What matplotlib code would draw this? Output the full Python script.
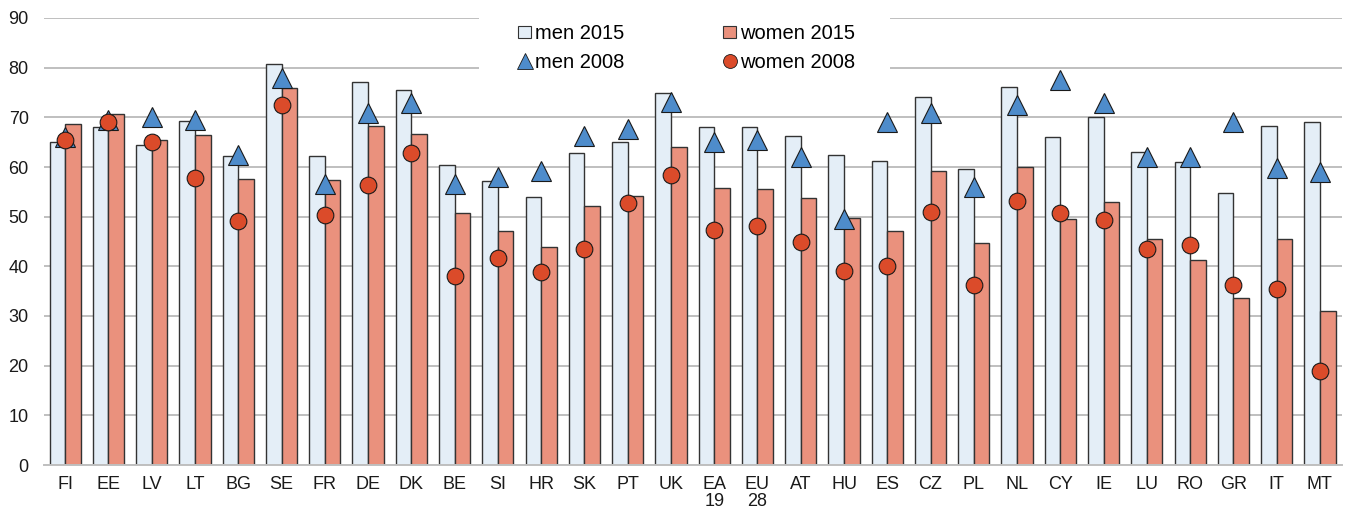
import numpy as np
import matplotlib.pyplot as plt
from matplotlib.patches import Patch, Rectangle
from matplotlib.lines import Line2D

plt.rcParams['font.family'] = ['Liberation Sans', 'DejaVu Sans']

countries = ['FI', 'EE', 'LV', 'LT', 'BG', 'SE', 'FR', 'DE', 'DK', 'BE', 'SI', 'HR', 'SK', 'PT', 'UK',
             'EA\n19', 'EU\n28', 'AT', 'HU', 'ES', 'CZ', 'PL', 'NL', 'CY', 'IE', 'LU', 'RO', 'GR', 'IT', 'MT']
men_2015 = [65.0, 68.0, 64.5, 69.2, 62.2, 80.7, 62.2, 77.1, 75.6, 60.4, 57.2, 54.0, 62.8, 65.0, 75.0,
            68.0, 68.1, 66.2, 62.4, 61.3, 74.1, 59.6, 76.2, 66.1, 70.1, 63.0, 61.0, 54.8, 68.3, 69.0]
women_2015 = [68.7, 70.7, 65.5, 66.5, 57.6, 76.0, 57.4, 68.3, 66.7, 50.7, 47.2, 43.9, 52.2, 54.1, 64.0,
              55.8, 55.6, 53.8, 49.8, 47.2, 59.2, 44.7, 59.9, 49.5, 52.9, 45.6, 41.3, 33.7, 45.6, 31.0]
men_2008 = [66.0, 69.5, 70.0, 69.5, 62.5, 78.0, 56.5, 70.8, 72.8, 56.5, 58.0, 59.2, 66.3, 67.7, 73.0,
            65.0, 65.4, 62.0, 49.5, 69.0, 70.8, 56.0, 72.4, 77.6, 72.8, 62.0, 62.0, 69.0, 59.8, 59.0]
women_2008 = [65.5, 69.0, 65.0, 57.8, 49.2, 72.5, 50.3, 56.4, 62.8, 38.0, 41.6, 38.8, 43.5, 52.7, 58.3,
              47.4, 48.1, 45.0, 39.0, 40.0, 50.9, 36.3, 53.2, 50.7, 49.3, 43.4, 44.3, 36.2, 35.4, 19.0]

c_men15 = '#E4EEF7'
c_women15 = '#EA917D'
c_men08 = '#4E8CCB'
c_women08 = '#DB4B2A'

fig = plt.figure(figsize=(13.46, 5.15), dpi=100)
ax = fig.add_axes([44 / 1346, 50 / 515, 1298 / 1346, 447 / 515])

x = np.arange(len(countries))
w = 0.36
ax.bar(x - w / 2, men_2015, w, color=c_men15, edgecolor='#333333', linewidth=1.0, zorder=2)
ax.bar(x + w / 2, women_2015, w, color=c_women15, edgecolor='#333333', linewidth=1.0, zorder=2)
ax.plot(x, men_2008, linestyle='none', marker='^', markersize=14, color=c_men08,
        markeredgecolor='#1a1a1a', markeredgewidth=0.8, zorder=3)
ax.plot(x, women_2008, linestyle='none', marker='o', markersize=12, color=c_women08,
        markeredgecolor='#1a1a1a', markeredgewidth=0.8, zorder=4)

ax.set_xlim(-0.49, len(countries) - 0.49)
ax.set_ylim(0, 90)
ax.set_yticks(np.arange(0, 91, 10))
ax.yaxis.grid(True, color='#BFBFBF', linewidth=1.4, zorder=0)
ax.set_axisbelow(True)
for s in ['top', 'right', 'left']:
    ax.spines[s].set_visible(False)
ax.spines['bottom'].set_color('#BFBFBF')
ax.spines['bottom'].set_linewidth(1.4)
ax.set_xticks(x)
ax.set_xticklabels(countries, fontsize=13, linespacing=1.0)
ax.tick_params(axis='both', length=0, labelsize=13, colors='#1a1a1a')
ax.tick_params(axis='x', pad=8)
ax.tick_params(axis='y', pad=11)

# white box behind the legend, hiding the gridlines there
ax.add_patch(Rectangle((479 / 1346, 1 - 74 / 515), 411 / 1346, 74 / 515, transform=fig.transFigure,
                       facecolor='white', edgecolor='none', zorder=1, clip_on=False))

handles = [
    Patch(facecolor=c_men15, edgecolor='#333333', linewidth=0.8),
    Line2D([], [], linestyle='none', marker='^', markersize=11, color=c_men08,
           markeredgecolor='#1a1a1a', markeredgewidth=0.6),
    Patch(facecolor=c_women15, edgecolor='#333333', linewidth=0.8),
    Line2D([], [], linestyle='none', marker='o', markersize=10, color=c_women08,
           markeredgecolor='#1a1a1a', markeredgewidth=0.6),
]
labels = ['men 2015', 'men 2008', 'women 2015', 'women 2008']
leg = fig.legend(handles, labels, ncol=2, loc='upper left', bbox_to_anchor=(518 / 1346, 1 - 24 / 515),
                 frameon=False, fontsize=14.5, handlelength=0.65, handleheight=0.6, handletextpad=0.2,
                 columnspacing=4.9, labelspacing=0.5, borderpad=0, borderaxespad=0)

fig.savefig('out.png', dpi=100)
